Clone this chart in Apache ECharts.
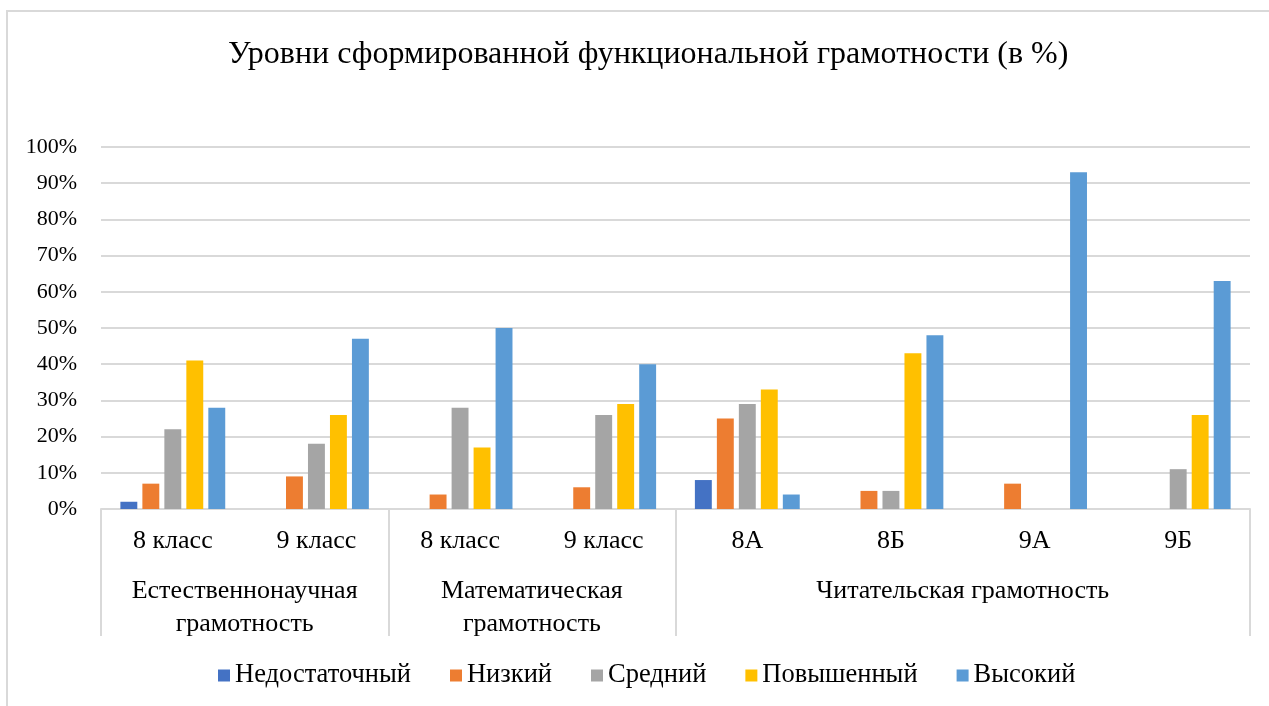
<!DOCTYPE html>
<html>
<head>
<meta charset="utf-8">
<script src="https://cdn.jsdelivr.net/npm/echarts@6/dist/echarts.min.js"></script>
<style>html,body{margin:0;padding:0;background:#fff;}#c{width:1269px;height:706px;}</style>
</head>
<body>
<div id="c"></div>
<script>
const titleText = 'Уровни сформированной функциональной грамотности (в %)';
const categories = ['8 класс', '9 класс', '8 класс', '9 класс', '8А', '8Б', '9А', '9Б'];
const groupNames = ['Естественнонаучная\nграмотность', 'Математическая\nграмотность', 'Читательская грамотность'];
const groupCenters = [1, 3, 6];
const groupBounds = [0, 2, 4, 8];
const seriesNames = ['Недостаточный', 'Низкий', 'Средний', 'Повышенный', 'Высокий'];
const nedostatochny = [2, 0, 0, 0, 8, 0, 0, 0];
const nizky = [7, 9, 4, 6, 25, 5, 7, 0];
const sredny = [22, 18, 28, 26, 29, 5, 0, 11];
const povyshenny = [41, 26, 17, 29, 33, 43, 0, 26];
const vysoky = [28, 47, 50, 40, 4, 48, 93, 63];
const colors = ['#4472C4', '#ED7D31', '#A5A5A5', '#FFC000', '#5B9BD5'];

const font = "'Liberation Serif', 'Times New Roman', serif";
const allData = [nedostatochny, nizky, sredny, povyshenny, vysoky];

const chart = echarts.init(document.getElementById('c'), null, {renderer: 'canvas'});
chart.setOption({
  animation: false,
  color: colors,
  title: {
    text: titleText, left: 223, top: 34,
    textStyle: {fontFamily: font, fontSize: 32, fontWeight: 'normal', color: '#000'}
  },
  graphic: [{
    type: 'rect', shape: {x: 7, y: 11, width: 1300, height: 800},
    style: {fill: 'none', stroke: '#d9d9d9', lineWidth: 2}, silent: true, z: -1
  }],
  legend: {
    bottom: 12, left: 213, icon: 'rect', itemWidth: 12, itemHeight: 12, itemGap: 39,
    textStyle: {fontFamily: font, fontSize: 26.5, color: '#000'},
    data: seriesNames
  },
  grid: {left: 101, right: 19, top: 147, bottom: 197, containLabel: false},
  xAxis: [{
    type: 'category', data: categories, position: 'bottom',
    axisLine: {lineStyle: {color: '#d9d9d9', width: 2}},
    axisTick: {show: false},
    axisLabel: {fontFamily: font, fontSize: 26, color: '#000', margin: 19, interval: 0}
  }, {
    type: 'value', min: 0, max: 8, position: 'bottom',
    axisLine: {show: false},
    splitLine: {show: false},
    axisTick: {show: true, customValues: groupBounds, length: 127, lineStyle: {color: '#d9d9d9', width: 2}},
    axisLabel: {
      customValues: groupCenters, fontFamily: font, fontSize: 26, color: '#000',
      margin: 66, lineHeight: 33, verticalAlign: 'top', align: 'center',
      formatter: function (v) { const i = groupCenters.indexOf(Math.round(v)); return i >= 0 ? groupNames[i] : ''; }
    }
  }],
  yAxis: {
    type: 'value', min: 0, max: 100, interval: 10,
    axisLine: {show: false}, axisTick: {show: false},
    splitLine: {lineStyle: {color: '#d9d9d9', width: 2}},
    axisLabel: {fontFamily: font, fontSize: 22, color: '#000', margin: 24, formatter: '{value}%'}
  },
  series: seriesNames.map((n, i) => ({
    name: n, type: 'bar', xAxisIndex: 0, data: allData[i],
    barCategoryGap: '27%', barGap: '30%',
    itemStyle: {color: colors[i]}
  }))
});
</script>
</body>
</html>
